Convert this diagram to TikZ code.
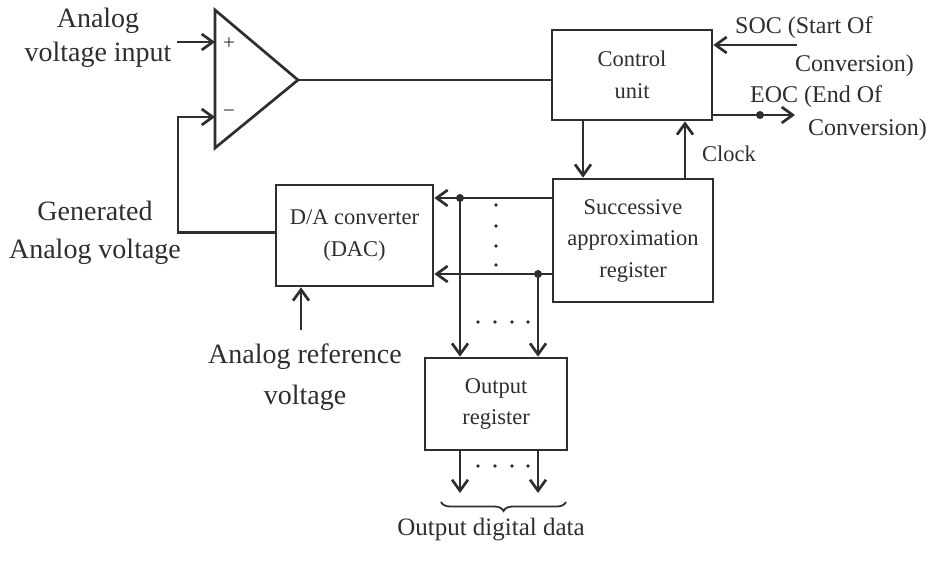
\documentclass[tikz,border=0pt]{standalone}
\usepackage{fontspec}
\setmainfont{Liberation Serif}
\usetikzlibrary{arrows.meta,decorations.pathreplacing}
\definecolor{ink}{HTML}{2E2E2E}
\begin{document}
\begin{tikzpicture}[x=1pt,y=-1pt,
  line/.style={draw=ink, line width=2.7pt},
  arr/.style={line, -{Straight Barb[length=11pt,width=16pt]}},
  box/.style={draw=ink, line width=2.7pt, rectangle, inner sep=0pt, align=center, text=ink,
              font=\fontsize{22.5}{31.5}\selectfont},
  dot/.style={circle, fill=ink, inner sep=0pt, minimum size=8pt},
  big/.style={text=ink, align=center, inner sep=0pt},
  mid/.style={text=ink, inner sep=0pt, anchor=base west, font=\fontsize{24}{28}\selectfont}
]
\useasboundingbox (0,0) rectangle (928,560);

% comparator
\coordinate (cT) at (215,10);
\coordinate (cB) at (215,148);
\coordinate (cO) at (298,80);
\coordinate (cP) at (215,42);
\coordinate (cM) at (215,117);
\draw[line, line join=miter] (cT) -- (cO) -- (cB) -- cycle;
\node[text=ink, font=\fontsize{21}{22}\selectfont] (plus) at (229,44) {+};
\node[text=ink, font=\fontsize{21}{22}\selectfont] (minus) at (229,114) {−};

% boxes
\node[box, minimum width=160pt, minimum height=90pt] (cu) at (632,75) {Control\\unit};
\node[box, minimum width=160pt, minimum height=123pt] (sar) at (633,240.5) {Successive\\approximation\\register};
\node[box, minimum width=157pt, minimum height=101pt] (dac) at (354.5,235.5) {D/A converter\\(DAC)};
\node[box, minimum width=142pt, minimum height=92pt] (or) at (496,404) {Output\\register};

% labels
\node[big, font=\fontsize{28}{34}\selectfont] (lin) at (98,38) {Analog\\voltage input};
\node[big, font=\fontsize{28}{38}\selectfont] (lgen) at (95,232.5) {Generated\\Analog voltage};
\node[big, font=\fontsize{28}{41}\selectfont] (lref) at (305,377) {Analog reference\\voltage};
\node[mid] (soc1) at (735,33) {SOC (Start Of};
\node[mid] (soc2) at (795,71) {Conversion)};
\node[mid] (eoc1) at (750,102) {EOC (End Of};
\node[mid] (eoc2) at (808,135) {Conversion)};
\node[mid, font=\fontsize{22.5}{26}\selectfont] (clk) at (702,161) {Clock};
\node[text=ink, inner sep=0pt, anchor=base, font=\fontsize{25}{30}\selectfont] (odd) at (491,535) {Output digital data};

% comparator inputs / output
\coordinate (inP) at (177,42);
\coordinate (fbk) at (178,117);
\draw[arr] (inP) -- (cP);
\draw[arr] ([yshift=3pt]dac.west) -| (fbk) -- (cM);
\draw[line] (cO) -- (cO -| cu.west);

% SOC / EOC
\coordinate (soc) at (797,45);
\coordinate (eoc) at (795,115);
\draw[arr] (soc) -- (soc -| cu.east);
\draw[arr] (eoc -| cu.east) -- (eoc);
\node[dot] (eocdot) at (760,115) {};

% control <-> SAR
\coordinate (cs) at (583,0);
\coordinate (ck) at (685,0);
\draw[arr] (cu.south -| cs) -- (sar.north -| cs);
\draw[arr] (sar.north -| ck) -- (cu.south -| ck);

% bus SAR -> DAC and output register
\coordinate (b1) at (460,198);
\coordinate (b2) at (538,274);
\draw[arr] (sar.west |- b1) -- (dac.east |- b1);
\draw[arr] (sar.west |- b2) -- (dac.east |- b2);
\draw[arr] (b1) -- (b1 |- or.north);
\draw[arr] (b2) -- (b2 |- or.north);
\node[dot] (d1) at (b1) {};
\node[dot] (d2) at (b2) {};

% output
\coordinate (o1) at (460,493);
\coordinate (o2) at (538,493);
\draw[arr] (or.south -| o1) -- (o1);
\draw[arr] (or.south -| o2) -- (o2);

% reference
\coordinate (ref) at (301,330);
\draw[arr] (ref) -- (ref |- dac.south);

% dotted marks
\foreach \yy in {205,226,246,265} \fill[ink] (496,\yy) circle[radius=1.8pt];
\foreach \xx in {478,495,512,528} {
  \fill[ink] (\xx,322) circle[radius=1.8pt];
  \fill[ink] (\xx,466) circle[radius=1.8pt];
}

% brace
\draw[draw=ink, line width=1.8pt, decorate, decoration={brace, amplitude=9pt}] (566,502) -- (441,502);
\end{tikzpicture}
\end{document}
